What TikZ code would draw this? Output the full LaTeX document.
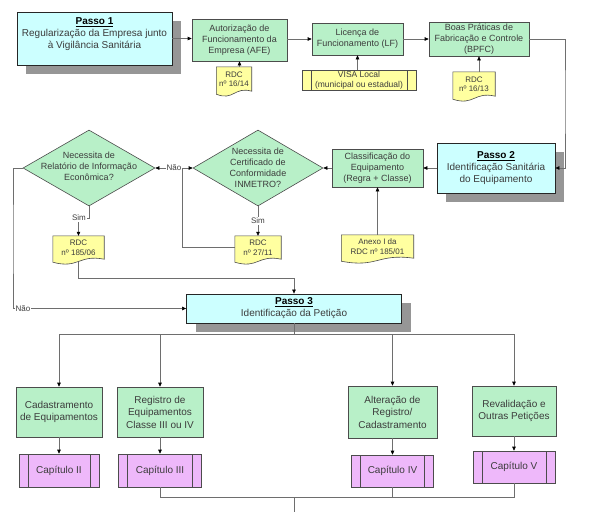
\documentclass[tikz,border=0pt]{standalone}
\usepackage{fontspec}
\setmainfont{Liberation Sans}
\usetikzlibrary{shapes.geometric,arrows.meta,shadows,calc}
\pgfdeclarelayer{background}
\pgfdeclarelayer{paper}
\pgfsetlayers{paper,background,main}
\definecolor{cyanf}{RGB}{204,255,255}
\definecolor{greenf}{RGB}{184,240,200}
\definecolor{yellowf}{RGB}{255,255,160}
\definecolor{purplef}{RGB}{238,184,250}
\definecolor{txt}{RGB}{60,60,60}
\definecolor{linec}{RGB}{110,110,110}
\definecolor{shadowc}{RGB}{150,150,150}
\newcommand\docshape[1]{%
  \begin{pgfonlayer}{background}
  \filldraw[draw=black!70, line width=0.6pt, fill=yellowf] (#1.north west) -- (#1.north east) -- (#1.south east)
    .. controls ($(#1.south)+(0,-5)$) and ($(#1.south)+(0,10)$) .. ($(#1.south west)+(0,3)$) -- cycle;
  \end{pgfonlayer}}
\begin{document}
\begin{tikzpicture}[x=1pt,y=-1pt,
  box/.style={draw=black!70, line width=0.6pt, fill=greenf, align=center, inner sep=1pt, text=txt, font=\fontsize{9}{11}\selectfont},
  bigbox/.style={box, font=\fontsize{10}{12.5}\selectfont},
  passo/.style={draw=black!85, line width=0.8pt, fill=cyanf, align=center, inner sep=1pt, text=txt, font=\fontsize{10}{12}\selectfont,
    drop shadow={shadow xshift=9pt, shadow yshift=-9pt, opacity=1, fill=shadowc}},
  dia/.style={diamond, draw=black!70, line width=0.6pt, fill=greenf, inner sep=0pt},
  dtext/.style={align=center, text=txt, font=\fontsize{9}{11}\selectfont, inner sep=0pt},
  docn/.style={align=center, text=txt, font=\fontsize{8}{9.5}\selectfont, inner sep=0pt},
  proc/.style={draw=black!70, line width=0.6pt, fill=purplef, align=center, inner sep=0.5pt, text=txt, font=\fontsize{10}{12}\selectfont,
    path picture={\draw[black!70, line width=0.6pt] ([xshift=9pt]path picture bounding box.north west) -- ([xshift=9pt]path picture bounding box.south west);
      \draw[black!70, line width=0.6pt] ([xshift=-9pt]path picture bounding box.north east) -- ([xshift=-9pt]path picture bounding box.south east);}},
  ln/.style={draw=linec, line width=0.6pt},
  arr/.style={ln, -{Triangle[length=4pt,width=3.5pt,color=black]}},
  lbl/.style={fill=white, inner sep=0.8pt, text=txt, font=\fontsize{8}{9}\selectfont}
]
\begin{pgfonlayer}{paper}
\useasboundingbox[fill=white] (0,0) rectangle (590,512);
\end{pgfonlayer}

% ---- top row
\node[passo, minimum width=155, minimum height=53] (passo1) at (94.5,38.5)
  {\textcolor{black}{\underline{\textbf{Passo 1}}}\\Regularização da Empresa junto\\à Vigilância Sanitária\\[-1pt]\mbox{}};
\node[box, minimum width=95, minimum height=42] (afe) at (239.5,40) {Autorização de\\Funcionamento da\\Empresa (AFE)};
\node[box, minimum width=91, minimum height=32] (lf) at (357.5,39) {Licença de\\Funcionamento (LF)};
\node[box, minimum width=100, minimum height=34] (bpfc) at (479,39) {Boas Práticas de\\Fabricação e Controle\\(BPFC)};
\node[docn, minimum width=35, minimum height=24] (rdc1614) at (234,79) {RDC\\nº 16/14};
\docshape{rdc1614}
\node[proc, fill=yellowf, font=\fontsize{8.5}{10}\selectfont, minimum width=114, minimum height=20] (visa) at (359,80) {VISA Local\\(municipal ou estadual)};
\node[docn, minimum width=42, minimum height=24] (rdc1613) at (474,84) {RDC\\nº 16/13};
\docshape{rdc1613}

\draw[arr] (passo1.east) -- (passo1.east -| afe.west);
\draw[arr] (afe.east |- lf.west) -- (lf.west);
\draw[arr] (lf.east) -- (bpfc.west);
\draw[arr] (rdc1614.north -| afe.south) -- (afe.south);
\draw[arr] (visa.north -| lf.south) -- (lf.south);
\draw[arr] (rdc1613.north -| bpfc.south) -- (bpfc.south);

% ---- middle row
\node[passo, minimum width=118, minimum height=50] (passo2) at (496,168)
  {\textcolor{black}{\underline{\textbf{Passo 2}}}\\Identificação Sanitária\\do Equipamento};
\node[box, minimum width=91, minimum height=38] (class) at (377.5,168) {Classificação do\\Equipamento\\(Regra + Classe)};
\node[docn, minimum width=72, minimum height=23] (anexo) at (377.5,246.5) {Anexo I da\\RDC nº 185/01};
\docshape{anexo}
\node[dia, minimum width=130, minimum height=76] (inm) at (258,168) {};
\node[dtext] (inmt) at (258,167.5) {Necessita de\\Certificado de\\Conformidade\\INMETRO?};
\node[dia, minimum width=132, minimum height=76] (rie) at (89,168) {};
\node[dtext] (riet) at (89,166) {Necessita de\\Relatório de Informação\\Econômica?};
\node[docn, minimum width=51, minimum height=23] (rdc18506) at (78.5,247.5) {RDC\\nº 185/06};
\docshape{rdc18506}
\node[docn, minimum width=46, minimum height=23] (rdc2711) at (258,247.5) {RDC\\nº 27/11};
\docshape{rdc2711}

\coordinate (c1) at (565,100);
\draw[arr] (bpfc.east) -| (c1) |- (passo2.east);
\draw[arr] (passo2.west) -- (class.east);
\draw[arr] (anexo.north) -- (class.south);
\draw[arr] (class.west) -- (inm.east);
\draw[arr] (inm.south) -- node[lbl] (sim2) {Sim} (rdc2711.north);
\draw[ln, {Triangle[length=4pt,width=3.5pt,color=black]}-{Triangle[length=4pt,width=3.5pt,color=black]}]
  (rie.east) -- node[lbl] (nao1) {Não} (inm.west);
\coordinate (c3) at (182,168);
\draw[ln] (rdc2711.west) -| (c3);
\coordinate (simc) at (78.5,218);
\draw[arr] (rie.south) |- (simc) -- (rdc18506.north);
\node[lbl] (sim1) at (79,218) {Sim};

% ---- Passo 3
\node[passo, minimum width=215, minimum height=29] (passo3) at (294,308.5)
  {\textcolor{black}{\underline{\textbf{Passo 3}}}\\Identificação da Petição};
\coordinate (c2) at (13,240);
\draw[arr] (rie.west) -| (c2) |- (passo3.west);
\node[lbl] (nao2) at (23,308.5) {Não};
\coordinate (c4) at (294,278);
\draw[arr] ($(rdc18506.south)+(0,2.5)$) |- (c4) -- (passo3.north);

% ---- bottom row
\node[bigbox, minimum width=86, minimum height=50] (cad) at (59,412) {Cadastramento\\de Equipamentos};
\node[bigbox, minimum width=86, minimum height=50] (reg) at (160,412) {Registro de\\Equipamentos\\Classe III ou IV};
\node[bigbox, minimum width=89, minimum height=52] (alt) at (392.5,412) {Alteração de\\Registro/\\Cadastramento};
\node[bigbox, minimum width=84, minimum height=50] (rev) at (514,411) {Revalidação e\\Outras Petições};
\node[proc, minimum width=80, minimum height=33] (cap2) at (59,470.5) {Capítulo II};
\node[proc, minimum width=83, minimum height=33] (cap3) at (160,470.5) {Capítulo III};
\node[proc, minimum width=82, minimum height=32] (cap4) at (392.5,471) {Capítulo IV};
\node[proc, minimum width=82, minimum height=32] (cap5) at (514,467) {Capítulo V};

\coordinate (split) at (294,334);
\draw[ln] (passo3.south) -- (split);
\draw[arr] (split) -| (cad.north);
\draw[arr] (split) -| (reg.north);
\draw[arr] (split) -| (alt.north);
\draw[arr] (split) -| (rev.north);
\draw[arr] (cad.south) -- (cap2.north);
\draw[arr] (reg.south) -- (cap3.north);
\draw[arr] (alt.south) -- (cap4.north);
\draw[arr] (rev.south) -- (cap5.north);
\coordinate (join) at (294,497);
\coordinate (bottom) at (294,512);
\draw[ln] (cap3.south) |- (join);
\draw[ln] (cap4.south) |- (join);
\draw[ln] (cap5.south) |- (join);
\draw[ln] (join) -- (bottom);
\end{tikzpicture}
\end{document}
